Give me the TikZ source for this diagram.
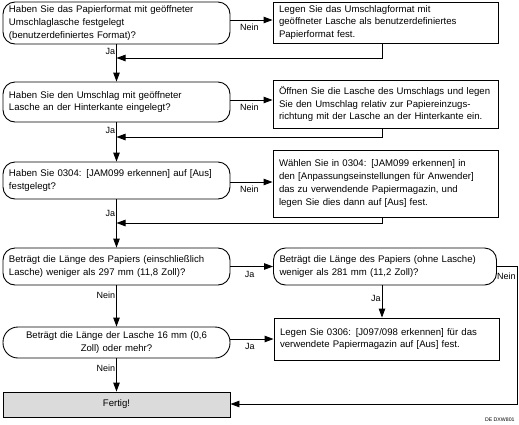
\documentclass[tikz,border=0pt]{standalone}
\usepackage{fontspec}
\setmainfont{Liberation Sans}
\usetikzlibrary{arrows.meta}
\begin{document}
\begin{tikzpicture}[x=1pt,y=-1pt,
  font=\fontsize{9.6}{12.8}\selectfont,
  line width=0.9pt,
  dec/.style={draw, rounded corners=12pt, minimum width=227pt, text width=215pt,
    inner xsep=6pt, inner ysep=0pt, align=left},
  act/.style={draw, minimum width=225pt, text width=213pt,
    inner xsep=6pt, inner ysep=0pt, align=left},
  fin/.style={draw, fill=black!14, minimum width=227pt, minimum height=25pt,
    inner sep=0pt, align=center},
  arr/.style={-{Triangle[length=9pt,width=6.5pt]}},
  lab/.style={inner sep=1pt, font=\fontsize{9}{10}\selectfont}
]
\useasboundingbox (0,0) rectangle (519,424);

% left column
\node[dec, minimum height=42pt] (d1) at (116.5,23)
  {Haben Sie das Papierformat mit geöffneter\\Umschlaglasche festgelegt\\(benutzerdefiniertes Format)?};
\node[dec, minimum height=40pt] (d2) at (116.5,102)
  {Haben Sie den Umschlag mit geöffneter\\Lasche an der Hinterkante eingelegt?};
\node[dec, minimum height=37pt] (d3) at (116.5,180.5)
  {Haben Sie 0304: [JAM099 erkennen] auf [Aus]\\festgelegt?};
\node[dec, minimum height=37pt] (d4) at (116.5,266.5)
  {Beträgt die Länge des Papiers (einschließlich\\Lasche) weniger als 297 mm (11,8 Zoll)?};
\node[dec, minimum height=31pt, align=center, rounded corners=15pt] (d6) at (116.5,342.5)
  {Beträgt die Länge der Lasche 16 mm (0,6\\Zoll) oder mehr?};
\node[fin] (fin) at (116.5,404.5) {Fertig!};

% right column
\node[act, minimum height=41pt] (a1) at (385.5,22.5)
  {Legen Sie das Umschlagformat mit\\geöffneter Lasche als benutzerdefiniertes\\Papierformat fest.};
\node[act, minimum height=48pt] (a2) at (385.5,104)
  {Öffnen Sie die Lasche des Umschlags und legen\\Sie den Umschlag relativ zur Papiereinzugs-\\richtung mit der Lasche an der Hinterkante ein.};
\node[act, minimum height=67pt] (a3) at (385.5,183.5)
  {Wählen Sie in 0304: [JAM099 erkennen] in\\den [Anpassungseinstellungen für Anwender]\\das zu verwendende Papiermagazin, und\\legen Sie dies dann auf [Aus] fest.};
\node[dec, minimum width=223pt, text width=211pt, minimum height=37pt] (d5) at (385,266.5)
  {Beträgt die Länge des Papiers (ohne Lasche)\\weniger als 281 mm (11,2 Zoll)?};
\node[act, minimum height=42pt] (a6) at (386.5,339)
  {Legen Sie 0306: [J097/098 erkennen] für das\\verwendete Papiermagazin auf [Aus] fest.};

% main vertical line
\draw[arr] (d1.south) -- node[lab, left, pos=0.2] (j1) {Ja} (d2.north);
\draw[arr] (d2.south) -- node[lab, left, pos=0.2] (j2) {Ja} (d3.north);
\draw[arr] (d3.south) -- node[lab, left, pos=0.3] (j3) {Ja} (d4.north);
\draw[arr] (d4.south) -- node[lab, left, pos=0.25] (n4) {Nein} (d6.north);
\draw[arr] (d6.south) -- node[lab, left, pos=0.3] (n6) {Nein} (fin.north);

% Nein branches
\draw[arr] (d1.east |- 0,20) -- node[lab, below, pos=0.45, yshift=-3pt] (n1) {Nein} (a1.west |- 0,20);
\draw[arr] (d2.east |- 0,100) -- node[lab, below, pos=0.45, yshift=-3pt] (n2) {Nein} (a2.west |- 0,100);
\draw[arr] (d3.east |- 0,182) -- node[lab, below, pos=0.45, yshift=-3pt] (n3) {Nein} (a3.west |- 0,182);

% returns
\coordinate (r1) at (382,58);
\coordinate (r2) at (382,137);
\coordinate (r3) at (382,223);
\draw[arr] (a1.south -| r1) -- (r1) -- (d1.south |- r1);
\draw[arr] (a2.south -| r2) -- (r2) -- (d2.south |- r2);
\draw[arr] (a3.south -| r3) -- (r3) -- (d3.south |- r3);

% Ja branches
\draw[arr] (d4.east) -- node[lab, below, pos=0.45, yshift=-3pt] (j4) {Ja} (d5.west);
\draw[arr] (d6.east |- a6.west) -- node[lab, below, pos=0.45, yshift=-3pt] (j6) {Ja} (a6.west);
\draw[arr] (d5.south -| 382,0) -- node[lab, left, pos=0.4] (j5) {Ja} (a6.north -| 382,0);

% Nein from d5 to Fertig
\coordinate (c1) at (517,266.5);
\coordinate (c2) at (517,404);
\draw[arr] (d5.east) -- (c1) -- (c2) -- (fin.east |- c2);
\node[lab, anchor=north east, inner sep=0.5pt] (n5) at (516.5,272) {Nein};

\node[anchor=south east, inner sep=0pt, font=\fontsize{5.2}{6}\selectfont] (code) at (515,422) {DE DXW801};
\end{tikzpicture}
\end{document}
